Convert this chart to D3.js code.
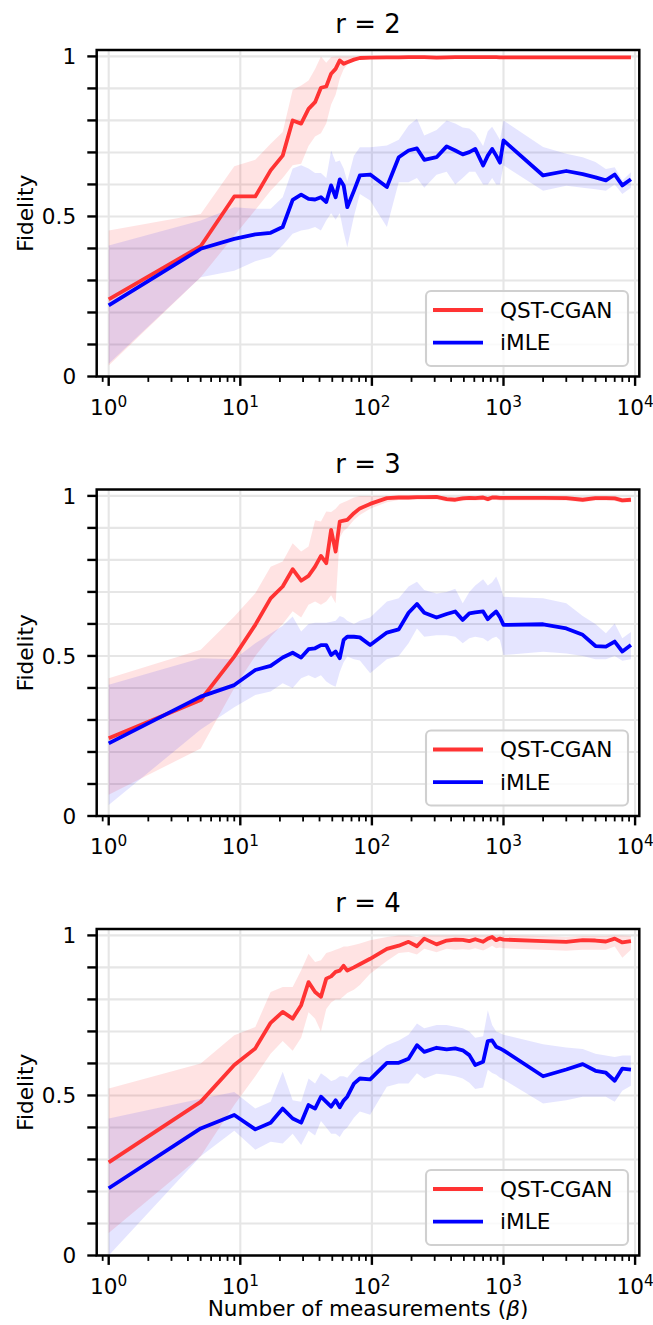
<!DOCTYPE html>
<html>
<head>
<meta charset="utf-8">
<script src="https://cdn.jsdelivr.net/npm/d3@7"></script>
<style>
  html, body { margin: 0; padding: 0; background: #fff; }
  svg { display: block; }
  text { font-family: "DejaVu Sans", sans-serif; fill: #000; }
</style>
</head>
<body>
<svg id="chart" width="653" height="1325"></svg>
<script>
// ---------------- DATA ----------------
const X = [1,5,9,13,17,21,25,29,33,37,41,45,49,53,57,61,65,73,81,97,130,160,190,220,250,310,370,430,490,550,610,700,760,820,880,940,1000,2000,3000,4000,5000,6000,7000,8000,9300];

const titles = ["r = 2", "r = 3", "r = 4"];
const seriesNames = ["QST-CGAN", "iMLE"];

// r = 2
const r2_qst_mean = [0.241,0.407,0.5625,0.5625,0.644,0.69,0.80,0.79,0.836,0.857,0.902,0.906,0.946,0.961,0.9875,0.977,0.982,0.99,0.995,0.996,0.997,0.997,0.998,0.998,0.998,0.996,0.997,0.998,0.998,0.998,0.998,0.998,0.998,0.998,0.998,0.997,0.997,0.997,0.997,0.997,0.997,0.997,0.997,0.997,0.997];
const r2_qst_hi   = [0.456,0.508,0.657,0.677,0.727,0.764,0.896,0.909,0.925,0.961,1.0,0.98,0.998,1.0,1.0,1.0,1.0,1.0,1.0,1.0,1.0,1.0,1.0,1.0,1.0,1.0,1.0,1.0,1.0,1.0,1.0,1.0,1.0,1.0,1.0,1.0,1.0,1.0,1.0,1.0,1.0,1.0,1.0,1.0,1.0];
const r2_qst_lo   = [0.034,0.31,0.44,0.52,0.58,0.62,0.66,0.665,0.72,0.75,0.76,0.79,0.85,0.88,0.93,0.96,0.975,0.985,0.99,0.993,0.993,0.993,0.994,0.994,0.994,0.992,0.993,0.994,0.994,0.994,0.994,0.994,0.994,0.994,0.994,0.993,0.993,0.993,0.993,0.993,0.993,0.993,0.993,0.993,0.993];
const r2_imle_mean = [0.222,0.399,0.43,0.444,0.449,0.467,0.552,0.568,0.555,0.553,0.56,0.545,0.597,0.56,0.616,0.597,0.529,0.58,0.628,0.631,0.592,0.685,0.706,0.7125,0.677,0.685,0.719,0.706,0.694,0.701,0.711,0.659,0.69,0.711,0.69,0.668,0.7375,0.628,0.642,0.632,0.622,0.6125,0.631,0.597,0.616];
const r2_imle_hi   = [0.409,0.4875,0.529,0.524,0.524,0.56,0.65,0.66,0.65,0.636,0.636,0.62,0.706,0.67,0.675,0.65,0.61,0.69,0.716,0.716,0.722,0.74,0.784,0.805,0.753,0.77,0.8,0.79,0.778,0.775,0.76,0.72,0.766,0.78,0.76,0.74,0.8,0.717,0.696,0.685,0.67,0.648,0.654,0.612,0.638];
const r2_imle_lo   = [0.04,0.31,0.33,0.36,0.373,0.41,0.446,0.456,0.46,0.467,0.456,0.4875,0.51,0.49,0.51,0.45,0.404,0.5,0.57,0.55,0.467,0.607,0.607,0.62,0.59,0.63,0.64,0.6,0.62,0.64,0.64,0.6,0.6,0.62,0.6,0.6,0.66,0.58,0.596,0.59,0.585,0.58,0.6,0.57,0.59];

// r = 3
const r3_qst_mean = [0.243,0.3625,0.498,0.597,0.68,0.717,0.771,0.735,0.75,0.779,0.8125,0.79,0.894,0.826,0.92,0.923,0.925,0.946,0.961,0.975,0.993,0.995,0.995,0.996,0.996,0.997,0.99,0.988,0.992,0.994,0.993,0.995,0.99,0.995,0.995,0.994,0.994,0.994,0.993,0.988,0.993,0.993,0.992,0.986,0.988];
const r3_qst_hi   = [0.43,0.519,0.623,0.696,0.779,0.795,0.852,0.826,0.842,0.924,0.92,0.951,0.95,0.96,0.975,0.98,0.985,0.995,1.0,1.0,1.0,1.0,1.0,1.0,1.0,1.0,0.998,0.996,1.0,1.0,1.0,1.0,0.998,1.0,1.0,1.0,1.0,1.0,1.0,0.996,1.0,1.0,1.0,0.994,0.996];
const r3_qst_lo   = [0.066,0.211,0.40,0.5,0.56,0.6,0.64,0.62,0.66,0.67,0.66,0.67,0.69,0.665,0.87,0.89,0.9,0.925,0.94,0.96,0.98,0.987,0.987,0.988,0.988,0.989,0.982,0.98,0.984,0.986,0.985,0.987,0.982,0.987,0.987,0.986,0.986,0.986,0.985,0.98,0.985,0.985,0.984,0.978,0.98];
const r3_imle_mean = [0.227,0.373,0.409,0.456,0.469,0.495,0.51,0.495,0.521,0.524,0.534,0.534,0.503,0.514,0.493,0.55,0.56,0.56,0.558,0.534,0.573,0.583,0.635,0.6625,0.635,0.62,0.631,0.639,0.6125,0.633,0.636,0.639,0.615,0.628,0.639,0.621,0.597,0.599,0.586,0.566,0.531,0.529,0.545,0.514,0.534];
const r3_imle_hi   = [0.41,0.493,0.49,0.54,0.57,0.594,0.623,0.576,0.6,0.604,0.604,0.604,0.607,0.61,0.625,0.62,0.61,0.6,0.61,0.62,0.67,0.68,0.717,0.732,0.706,0.695,0.7,0.71,0.665,0.7,0.72,0.74,0.72,0.73,0.748,0.72,0.685,0.68,0.665,0.625,0.6,0.571,0.601,0.555,0.575];
const r3_imle_lo   = [0.034,0.27,0.34,0.378,0.389,0.415,0.4,0.43,0.44,0.43,0.44,0.42,0.41,0.404,0.45,0.48,0.498,0.49,0.486,0.446,0.49,0.5,0.54,0.586,0.56,0.565,0.565,0.56,0.54,0.555,0.56,0.555,0.545,0.555,0.56,0.55,0.503,0.513,0.508,0.5,0.49,0.49,0.5,0.485,0.49];

// r = 4
const r4_qst_mean = [0.291,0.48,0.595,0.647,0.727,0.761,0.74,0.782,0.854,0.823,0.808,0.865,0.872,0.886,0.89,0.905,0.89,0.9,0.91,0.927,0.958,0.968,0.98,0.966,0.99,0.972,0.984,0.987,0.986,0.982,0.988,0.98,0.99,0.995,0.985,0.99,0.987,0.982,0.98,0.985,0.984,0.981,0.99,0.978,0.982];
const r4_qst_hi   = [0.522,0.6,0.688,0.714,0.823,0.839,0.839,0.891,0.943,0.917,0.922,0.945,0.95,0.955,0.96,0.965,0.965,0.97,0.975,0.985,0.995,1.0,1.0,0.995,1.0,1.0,1.0,1.0,1.0,1.0,1.0,1.0,1.0,1.0,1.0,1.0,1.0,0.998,0.995,0.998,0.998,0.998,1.0,1.0,0.998];
const r4_qst_lo   = [0.07,0.31,0.47,0.56,0.63,0.67,0.64,0.68,0.76,0.74,0.7,0.77,0.79,0.8,0.8,0.81,0.82,0.83,0.845,0.88,0.92,0.945,0.948,0.94,0.958,0.947,0.958,0.955,0.957,0.955,0.96,0.953,0.96,0.968,0.96,0.962,0.96,0.955,0.952,0.955,0.955,0.955,0.965,0.93,0.955];
const r4_imle_mean = [0.21,0.397,0.439,0.394,0.415,0.459,0.428,0.415,0.47,0.459,0.496,0.48,0.465,0.485,0.463,0.484,0.496,0.537,0.553,0.55,0.602,0.602,0.615,0.657,0.636,0.649,0.644,0.647,0.641,0.626,0.595,0.605,0.67,0.672,0.652,0.647,0.641,0.56,0.581,0.598,0.577,0.571,0.546,0.584,0.581];
const r4_imle_hi   = [0.428,0.49,0.511,0.459,0.48,0.574,0.485,0.48,0.553,0.537,0.569,0.558,0.545,0.55,0.56,0.56,0.555,0.58,0.6,0.62,0.657,0.672,0.69,0.725,0.71,0.72,0.72,0.715,0.71,0.7,0.68,0.685,0.766,0.72,0.7,0.695,0.69,0.66,0.65,0.645,0.63,0.625,0.62,0.625,0.625];
const r4_imle_lo   = [0.0,0.31,0.39,0.33,0.355,0.35,0.38,0.345,0.39,0.375,0.42,0.4,0.38,0.38,0.37,0.39,0.4,0.43,0.45,0.44,0.527,0.537,0.537,0.569,0.553,0.568,0.565,0.56,0.553,0.54,0.52,0.525,0.58,0.57,0.565,0.555,0.55,0.475,0.485,0.496,0.496,0.496,0.48,0.515,0.53];

const yTicks = [0,0.1,0.2,0.3,0.4,0.5,0.6,0.7,0.8,0.9,1.0];
const yTickLabels = ["0","","","","","0.5","","","","","1"];
const xMajorExp = [0,1,2,3,4];

// ---------------- LAYOUT ----------------
const panels = [
  {title: titles[0], qst: [r2_qst_mean, r2_qst_lo, r2_qst_hi], imle: [r2_imle_mean, r2_imle_lo, r2_imle_hi]},
  {title: titles[1], qst: [r3_qst_mean, r3_qst_lo, r3_qst_hi], imle: [r3_imle_mean, r3_imle_lo, r3_imle_hi]},
  {title: titles[2], qst: [r4_qst_mean, r4_qst_lo, r4_qst_hi], imle: [r4_imle_mean, r4_imle_lo, r4_imle_hi]}
];
const L = 96.7, R = 639.3;
const tops = [50, 489.5, 929];
const PH = 326.5;
const FS = 21.6;
const RED = "#ff3333", BLUE = "#0000ff";

const svg = d3.select("#chart");
const x = d3.scaleLog().domain([Math.pow(10, -0.0912), Math.pow(10, 4.032)]).range([L, R]);

const minorX = [];
for (let d = -1; d <= 4; d++) for (let k = 2; k <= 9; k++) {
  const v = k * Math.pow(10, d);
  if (v >= x.domain()[0] && v <= x.domain()[1]) minorX.push(v);
}

panels.forEach((p, i) => {
  const T = tops[i], B = T + PH;
  const y = d3.scaleLinear().domain([0, 1.02]).range([B, T]);
  const g = svg.append("g");

  const clipId = "clip" + i;
  g.append("clipPath").attr("id", clipId).append("rect")
    .attr("x", L).attr("y", T).attr("width", R - L).attr("height", PH);

  // grid
  const grid = g.append("g").attr("stroke", "#e6e6e6").attr("stroke-width", 2.1);
  xMajorExp.forEach(e => {
    const xv = x(Math.pow(10, e));
    grid.append("line").attr("x1", xv).attr("x2", xv).attr("y1", T).attr("y2", B);
  });
  yTicks.forEach(t => {
    grid.append("line").attr("x1", L).attr("x2", R).attr("y1", y(t)).attr("y2", y(t));
  });

  const data = g.append("g").attr("clip-path", `url(#${clipId})`);
  const area = (lo, hi) => d3.area().x((d, j) => x(X[j])).y0((d, j) => y(lo[j])).y1((d, j) => y(hi[j]))(X);
  const line = (m) => d3.line().x((d, j) => x(X[j])).y((d, j) => y(m[j]))(X);

  data.append("path").attr("d", area(p.qst[1], p.qst[2])).attr("fill", "#ff0000").attr("fill-opacity", 0.11);
  data.append("path").attr("d", area(p.imle[1], p.imle[2])).attr("fill", "#0000ff").attr("fill-opacity", 0.1);
  data.append("path").attr("d", line(p.qst[0])).attr("fill", "none").attr("stroke", RED)
    .attr("stroke-width", 3.8).attr("stroke-linejoin", "round");
  data.append("path").attr("d", line(p.imle[0])).attr("fill", "none").attr("stroke", BLUE)
    .attr("stroke-width", 3.8).attr("stroke-linejoin", "round");

  // ticks
  const ticks = g.append("g").attr("stroke", "#000");
  yTicks.forEach((t, j) => {
    ticks.append("line").attr("x1", L - 9.4).attr("x2", L).attr("y1", y(t)).attr("y2", y(t)).attr("stroke-width", 2.4);
    if (yTickLabels[j]) {
      g.append("text").attr("x", L - 20.5).attr("y", y(t)).attr("dy", "0.36em")
        .attr("text-anchor", "end").attr("font-size", FS).text(yTickLabels[j]);
    }
  });
  minorX.forEach(v => {
    ticks.append("line").attr("x1", x(v)).attr("x2", x(v)).attr("y1", B).attr("y2", B + 5.4).attr("stroke-width", 1.8);
  });
  xMajorExp.forEach(e => {
    const xv = x(Math.pow(10, e));
    ticks.append("line").attr("x1", xv).attr("x2", xv).attr("y1", B).attr("y2", B + 9.4).attr("stroke-width", 2.4);
    const tx = g.append("text").attr("x", xv).attr("y", B + 38).attr("text-anchor", "middle").attr("font-size", FS);
    tx.append("tspan").text("10");
    tx.append("tspan").attr("font-size", 15.3).attr("dy", -7.8).text(String(e));
  });

  // spines
  g.append("rect").attr("x", L).attr("y", T).attr("width", R - L).attr("height", PH)
    .attr("fill", "none").attr("stroke", "#000").attr("stroke-width", 2.5);

  // title
  g.append("text").attr("x", (L + R) / 2).attr("y", T - 17).attr("text-anchor", "middle")
    .attr("font-size", 25.9).text(p.title);

  // y label
  g.append("text").attr("transform", `translate(33,${(T + B) / 2}) rotate(-90)`)
    .attr("text-anchor", "middle").attr("font-size", FS).text("Fidelity");

  // legend
  const lw = 202, lh = 75;
  const lx = R - 11.3 - lw, ly = B - 10.5 - lh;
  const lg = g.append("g");
  lg.append("rect").attr("x", lx).attr("y", ly).attr("width", lw).attr("height", lh)
    .attr("rx", 5).attr("ry", 5).attr("fill", "#fff").attr("fill-opacity", 0.8)
    .attr("stroke", "#d0d0d0").attr("stroke-width", 2.1);
  [[RED, seriesNames[0], 19], [BLUE, seriesNames[1], 51.7]].forEach(([c, name, dy]) => {
    lg.append("line").attr("x1", lx + 7).attr("x2", lx + 57).attr("y1", ly + dy).attr("y2", ly + dy)
      .attr("stroke", c).attr("stroke-width", 3.8);
    lg.append("text").attr("x", lx + 74).attr("y", ly + dy).attr("dy", "0.36em")
      .attr("font-size", FS).text(name);
  });
});

// x label
const xl = svg.append("text").attr("x", (L + R) / 2).attr("y", 1316).attr("text-anchor", "middle").attr("font-size", FS);
xl.append("tspan").text("Number of measurements (");
xl.append("tspan").attr("font-style", "italic").text("β");
xl.append("tspan").text(")");
</script>
</body>
</html>
